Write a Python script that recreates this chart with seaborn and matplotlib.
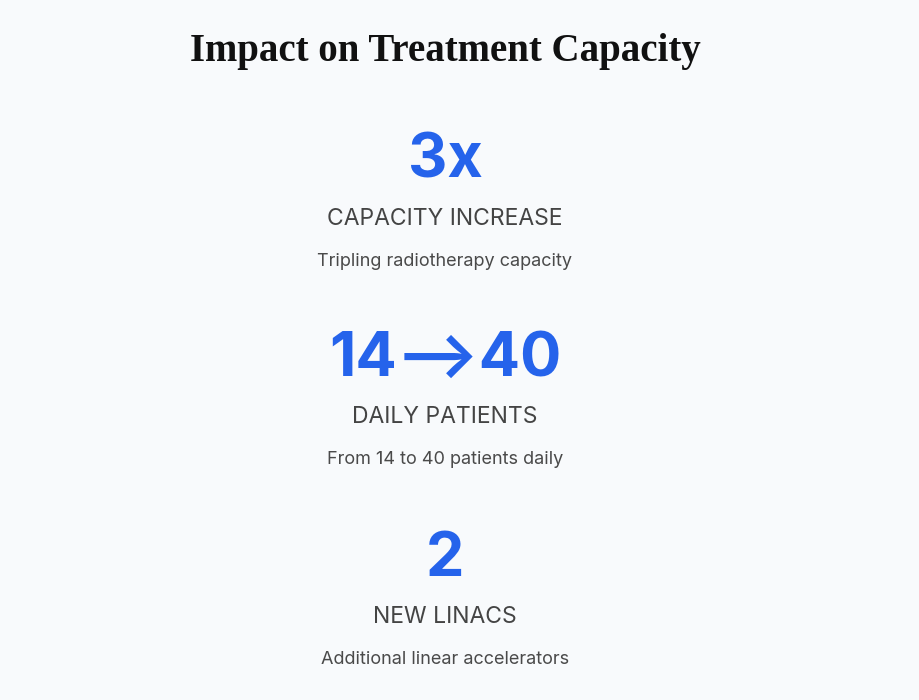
import matplotlib
matplotlib.use("Agg")
import matplotlib.pyplot as plt
import seaborn as sns

title = "Impact on Treatment Capacity"
values = ["3x", "14\u27F640", "2"]
labels = ["CAPACITY INCREASE", "DAILY PATIENTS", "NEW LINACS"]
descriptions = ["Tripling radiotherapy capacity", "From 14 to 40 patients daily", "Additional linear accelerators"]

sns.set_theme(style="white")
plt.rcParams['font.family'] = ['Inter', 'DejaVu Sans']

bg = "#f8fafc"
fig = plt.figure(figsize=(9.2, 7), dpi=100, facecolor=bg)
ax = fig.add_axes([0, 0, 1, 1])
ax.set_facecolor(bg)
ax.set_xlim(0, 920)
ax.set_ylim(700, 0)
ax.axis("off")

cx = 445
ax.text(cx, 52, title, ha="center", va="center", fontsize=28, fontweight="bold",
        family=["Liberation Serif", "DejaVu Serif"], color="#111111")

tops = [162, 360, 560]
for v, l, d, y in zip(values, labels, descriptions, tops):
    ax.text(cx, y, v, ha="center", va="center", fontsize=44, fontweight="bold",
            color="#2563eb", family=["Inter", "DejaVu Sans"])
    ax.text(cx, y + 57, l, ha="center", va="center", fontsize=16.5, color="#444444")
    ax.text(cx, y + 99, d, ha="center", va="center", fontsize=13, color="#4a4a4a")

fig.savefig("out.png", dpi=100, facecolor=bg)
